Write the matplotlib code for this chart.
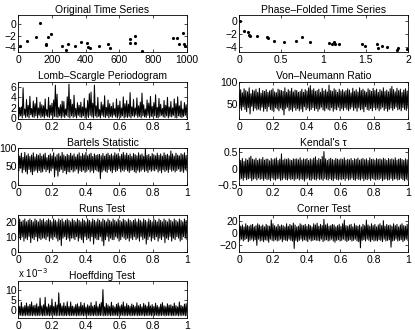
import matplotlib
matplotlib.use("Agg")
import matplotlib.pyplot as plt
from matplotlib.ticker import FuncFormatter

plt.rcParams['font.family'] = ['Liberation Sans', 'DejaVu Sans']
plt.rcParams['font.size'] = 7.5

# ---------------- data ----------------
orig_t = [12, 51, 104, 128, 165, 168, 175, 195, 262, 285, 295, 335, 370, 410, 412,
          425, 480, 530, 545, 660, 662, 690, 695, 735, 915, 940, 950, 975, 980, 990]
orig_y = [-3.8, -3.0, -2.3, 0.1, -3.6, -3.5, -2.2, -1.7, -3.7, -4.4, -3.5, -3.7, -3.1, -3.2, -3.9,
          -4.2, -3.8, -3.5, -4.1, -2.6, -3.2, -2.1, -3.2, -4.6, -2.4, -2.4, -3.5, -1.5, -3.5, -3.8]

phase_x = [0.01, 0.06, 0.11, 0.12, 0.13, 0.21, 0.33, 0.34, 0.41, 0.53, 0.68, 0.74, 0.84, 1.06,
           1.10, 1.12, 1.14, 1.18, 1.45, 1.49, 1.63, 1.65, 1.69, 1.75, 1.87, 1.88, 1.99]
phase_y = [0.1, -1.5, -1.7, -2.2, -2.3, -2.3, -2.4, -2.6, -3.1, -3.2, -3.0, -2.4, -3.2, -3.4,
           -3.5, -3.2, -3.6, -3.6, -3.5, -3.8, -3.5, -4.2, -3.8, -4.0, -4.5, -4.1, -4.3]

lomb = [3.0,0.3,2.1,0.5,2.2,0.1,5.8,0.6,1.8,0.2,3.6,0.4,2.5,0.1,4.2,0.7,1.9,0.3,3.3,0.2,
        2.8,0.5,4.0,0.1,2.0,0.6,3.1,0.2,2.6,0.4,2.4,0.1,3.7,0.5,1.7,0.3,4.0,0.2,2.5,0.6,
        2.9,0.1,3.5,0.4,6.3,0.3,4.6,0.2,2.1,0.5,2.6,0.1,3.3,0.4,3.2,0.2,1.8,0.6,4.1,0.3,
        6.5,0.1,3.6,0.5,2.7,0.2,4.4,0.4,1.9,0.1,3.0,0.6,2.5,0.3,3.1,0.2,2.2,0.5,3.8,0.1,
        2.0,0.4,3.4,0.2,4.7,0.6,5.0,0.3,2.9,0.1,6.3,0.5,2.4,0.2,4.0,0.4,1.7,0.1,3.1,0.6,
        2.6,0.3,4.3,0.2,2.1,0.5,3.5,0.1,2.8,0.4,2.3,0.2,3.0,0.6,1.9,0.3,3.7,0.1,2.5,0.4,
        3.3,0.2,2.0,0.5,4.1,0.1,2.8,0.3,3.4,0.2,2.7,0.4,4.9,0.1,2.2,0.5,3.6,0.3,2.0,0.6,
        3.9,0.2,2.4,0.4,3.1,0.1,4.8,0.5,2.6,0.3,1.8,0.2,3.5,0.6,2.9,0.1,4.2,0.4,2.3,0.3,
        3.0,0.5,4.5,0.2,2.1,0.1,3.8,0.4,2.7,0.6,1.9,0.3,3.4,0.2,2.5,0.5,4.0,0.1,2.2,0.4,
        3.2,0.3,2.0,0.6,3.7,0.2,2.8,0.1,4.1,0.5,2.4,0.3,3.3,0.2,1.8,0.4,3.0,0.6,2.6,0.2]

von_neumann = [78,40,82,36,75,44,84,38,80,33,77,42,86,28,73,45,81,35,79,41,
               83,37,76,39,85,36,74,43,80,34,78,40,82,34,76,44,79,38,81,36,
               84,33,77,42,75,39,83,35,81,41,80,37,78,26,86,40,76,43,82,35,
               79,38,85,34,77,42,81,36,80,40,76,35,78,39,83,33,76,44,82,37,
               79,41,86,35,91,38,81,42,84,36,78,40,80,34,83,39,76,43,85,37,
               79,35,82,41,77,38,92,36,80,42,78,34,84,39,81,37,76,43,83,35,
               79,40,82,36,77,42,80,38,84,35,81,39,75,43,85,36,78,41,82,34,
               77,42,86,37,80,39,83,33,79,44,76,38,84,36,81,40,78,35,85,42,
               80,37,83,41,76,35,82,39,79,43,86,36,78,40,81,34,77,38,84,41,
               89,36,82,40,77,43,85,37,80,39,83,35,76,42,81,38,84,36,79,41]

bartels = [82,38,78,45,86,33,75,41,88,36,79,30,84,42,77,35,81,28,87,37,
           76,40,83,34,80,39,85,34,78,36,82,43,86,36,74,41,80,33,84,38,
           79,45,87,22,76,40,82,24,85,37,78,42,88,34,81,39,77,30,83,36,
           80,35,86,41,79,35,84,38,76,43,82,32,87,39,78,36,85,40,81,34,
           88,37,79,42,83,35,86,39,77,33,84,41,80,38,82,36,83,17,79,35,
           85,40,78,37,83,34,86,42,80,38,84,33,79,41,87,36,82,39,85,44,
           78,35,83,40,88,37,81,42,86,38,80,34,84,39,77,41,85,36,82,33,
           79,40,87,35,81,38,84,42,78,36,97,39,80,34,83,41,77,37,85,40,
           82,38,79,43,86,35,80,39,84,33,78,41,87,36,81,40,83,34,79,42,
           92,37,84,40,78,35,86,39,81,43,79,36,85,38,82,34,87,41,80,38]

kendall = [0.28,-0.33,0.25,-0.30,0.31,-0.36,0.22,-0.28,0.30,-0.34,0.26,-0.31,0.33,-0.29,0.38,-0.37,0.29,-0.32,0.27,-0.30,
           0.32,-0.35,0.25,-0.29,0.30,-0.33,0.28,-0.31,0.34,-0.36,0.26,-0.30,0.29,-0.34,0.29,-0.32,0.24,-0.37,0.31,-0.29,
           0.27,-0.33,0.30,-0.35,0.33,-0.31,0.25,-0.30,0.29,-0.36,0.45,-0.34,0.26,-0.29,0.30,-0.33,0.28,-0.35,0.31,-0.30,
           0.27,-0.34,0.25,-0.31,0.30,-0.36,0.29,-0.32,0.30,-0.30,0.27,-0.35,0.33,-0.31,0.26,-0.33,0.30,-0.38,0.28,-0.32,
           0.31,-0.29,0.25,-0.34,0.30,-0.36,0.27,-0.31,0.32,-0.33,0.36,-0.35,0.26,-0.30,0.31,-0.34,0.28,-0.32,0.37,-0.36,
           0.52,-0.30,0.30,-0.33,0.25,-0.35,0.29,-0.31,0.32,-0.34,0.28,-0.37,0.26,-0.30,0.31,-0.33,0.29,-0.35,0.27,-0.32,
           0.30,-0.34,0.28,-0.31,0.33,-0.36,0.26,-0.30,0.29,-0.35,0.27,-0.33,0.31,-0.29,0.25,-0.34,0.30,-0.36,0.28,-0.31,
           0.32,-0.33,0.26,-0.35,0.29,-0.30,0.31,-0.37,0.27,-0.32,0.30,-0.34,0.25,-0.31,0.33,-0.36,0.28,-0.30,0.29,-0.33,
           0.26,-0.35,0.31,-0.32,0.28,-0.34,0.30,-0.30,0.27,-0.37,0.32,-0.33,0.29,-0.31,0.25,-0.35,0.31,-0.34,0.28,-0.30,
           0.30,-0.36,0.27,-0.32,0.33,-0.31,0.26,-0.35,0.29,-0.33,0.31,-0.30,0.28,-0.34,0.25,-0.37,0.30,-0.32,0.27,-0.35]

runs = [21,9,22,8,20,10,21,7,22,9,20,8,21,10,22,6,21,9,20,8,
        22,10,21,7,20,9,22,8,21,9,22,9,20,8,21,10,22,7,21,9,
        20,8,22,10,21,9,20,7,22,8,21,4,22,9,20,10,21,8,22,9,
        21,7,20,9,22,9,21,8,20,10,22,7,21,9,20,8,22,6,21,10,
        20,8,22,9,21,7,20,10,22,5,21,9,20,8,22,8,21,10,20,7,
        22,4,21,8,20,10,22,7,21,9,20,8,22,8,21,10,20,9,22,7,
        21,8,20,10,22,9,21,8,20,9,22,7,21,9,20,8,21,10,22,8,
        20,9,22,7,21,10,20,8,22,9,21,5,20,8,22,10,21,7,20,9,
        22,8,21,10,20,7,22,9,21,8,20,10,22,6,21,9,20,8,22,10,
        21,7,20,9,22,8,21,10,20,9,22,7,21,8,20,10,22,9,21,8]

corner = [14,-12,11,-10,13,-13,10,-11,15,-9,12,-14,11,-12,13,-10,14,-13,10,-11,
          12,-20,15,-10,13,-13,11,-12,13,-14,10,-11,14,-12,12,-15,11,-10,21,-12,
          15,-13,12,-11,10,-13,14,-12,11,-10,13,-14,12,-11,10,-12,15,-13,11,-10,
          14,-12,12,-13,16,-25,13,-12,10,-14,11,-12,15,-10,13,-13,12,-11,14,-12,
          11,-14,14,-10,12,-13,10,-12,15,-11,13,-12,16,-12,11,-13,14,-10,12,-14,
          22,-12,13,-11,15,-13,11,-12,12,-10,14,-13,13,-15,10,-12,12,-11,14,-13,
          11,-12,15,-10,21,-12,12,-14,11,-12,13,-11,14,-13,10,-12,15,-10,12,-13,
          11,-14,13,-24,10,-12,14,-11,12,-13,21,-10,13,-12,11,-14,15,-11,12,-13,
          14,-12,10,-13,13,-11,15,-12,12,-14,20,-10,11,-13,14,-12,12,-11,13,-23,
          11,-13,15,-12,12,-10,14,-13,10,-12,13,-11,15,-14,12,-12,11,-10,14,-12]

hoeffding_e3 = [2.5,-2.8,1.8,-2.6,3.8,-2.9,1.5,-2.7,2.2,-2.8,3.5,-2.6,1.9,-2.9,2.8,-2.7,4.0,-2.8,2.1,-2.6,
                2.4,-2.9,3.1,-2.7,1.7,-2.8,6.0,-2.6,2.0,-2.9,2.6,-2.7,6.3,-2.8,1.6,-2.6,3.0,-2.9,2.2,-2.7,
                5.5,-2.8,1.8,-2.6,3.9,-2.9,2.5,-2.7,8.6,-2.8,3.2,-2.6,2.0,-2.9,3.6,-2.7,1.9,-2.8,4.1,-2.6,
                1.7,-2.9,4.0,-2.7,2.0,-2.8,1.6,-2.6,2.7,-2.9,3.1,-2.7,1.8,-2.8,3.8,-2.6,2.2,-2.9,3.4,-2.7,
                1.5,-2.8,2.6,-2.6,2.0,-2.9,3.7,-2.7,1.9,-2.8,2.4,-2.6,4.2,-2.9,1.7,-2.7,2.9,-2.8,3.8,-2.6,
                10.2,-2.9,1.6,-2.7,3.3,-2.8,2.5,-2.6,1.8,-2.9,3.9,-2.7,2.2,-2.8,1.5,-2.6,2.8,-2.9,3.5,-2.7,
                2.0,-2.8,2.6,-2.6,4.0,-2.9,1.9,-2.7,3.2,-2.8,2.3,-2.6,1.8,-2.9,3.0,-2.7,2.4,-2.8,1.7,-2.6,
                3.6,-2.9,2.1,-2.7,2.8,-2.8,1.6,-2.6,3.3,-2.9,2.5,-2.7,1.9,-2.8,3.9,-2.6,2.0,-2.9,2.7,-2.7,
                1.8,-2.8,3.4,-2.6,2.2,-2.9,1.5,-2.7,2.9,-2.8,3.7,-2.6,2.1,-2.9,1.7,-2.7,3.1,-2.8,2.4,-2.6,
                2.6,-2.9,1.9,-2.7,3.5,-2.8,2.2,-2.6,1.6,-2.9,4.0,-2.7,2.3,-2.8,1.8,-2.6,2.9,-2.9,3.2,-2.7]

# ---------------- layout ----------------
W, H = 415, 330
fig = plt.figure(figsize=(W / 100, H / 100), dpi=100)

col_x = [18, 239]
ax_w = 169
row_top = [15, 81.5, 148, 214.5, 281]
ax_h = 37


def make_ax(row, col):
    x0 = col_x[col]
    top = row_top[row]
    return fig.add_axes([x0 / W, 1 - (top + ax_h) / H, ax_w / W, ax_h / H])


fmt = FuncFormatter(lambda v, p: ('%g' % v).replace('-', '\u2212'))


def style(ax, title, xlim, ylim, xticks, yticks):
    ax.set_title(title, fontsize=7.5, pad=1.5)
    ax.set_xlim(*xlim)
    ax.set_ylim(*ylim)
    ax.set_xticks(xticks)
    ax.set_yticks(yticks)
    ax.xaxis.set_major_formatter(fmt)
    ax.yaxis.set_major_formatter(fmt)
    ax.tick_params(direction='in', length=2, width=0.5, top=True, right=True,
                   labelsize=7.5)
    ax.tick_params(axis='x', pad=2.5)
    ax.tick_params(axis='y', pad=1)
    for s in ax.spines.values():
        s.set_linewidth(0.6)


def freq(n):
    return [i / (n - 1) for i in range(n)]


fx = [0, 0.2, 0.4, 0.6, 0.8, 1]

ax = make_ax(0, 0)
ax.plot(orig_t, orig_y, 'k.', markersize=2.5)
style(ax, 'Original Time Series', (0, 1000), (-4.8, 1.5), [0, 200, 400, 600, 800, 1000], [-4, -2, 0])

ax = make_ax(0, 1)
ax.plot(phase_x, phase_y, 'k.', markersize=2.5)
style(ax, 'Phase\u2013Folded Time Series', (0, 2), (-4.8, 1.0), [0, 0.5, 1, 1.5, 2], [-4, -2, 0])

lw = 0.75
ax = make_ax(1, 0)
ax.plot(freq(len(lomb)), lomb, 'k-', lw=lw)
style(ax, 'Lomb\u2013Scargle Periodogram', (0, 1), (0, 7), fx, [0, 2, 4, 6])

ax = make_ax(1, 1)
ax.plot(freq(len(von_neumann)), von_neumann, 'k-', lw=lw)
style(ax, 'Von\u2013Neumann Ratio', (0, 1), (18, 100), fx, [50, 100])

ax = make_ax(2, 0)
ax.plot(freq(len(bartels)), bartels, 'k-', lw=lw)
style(ax, 'Bartels Statistic', (0, 1), (0, 100), fx, [0, 50, 100])

ax = make_ax(2, 1)
ax.plot(freq(len(kendall)), kendall, 'k-', lw=lw)
style(ax, "Kendal's \u03c4", (0, 1), (-0.5, 0.63), fx, [-0.5, 0, 0.5])

ax = make_ax(3, 0)
ax.plot(freq(len(runs)), runs, 'k-', lw=lw)
style(ax, 'Runs Test', (0, 1), (0, 25), fx, [0, 10, 20])

ax = make_ax(3, 1)
ax.plot(freq(len(corner)), corner, 'k-', lw=lw)
style(ax, 'Corner Test', (0, 1), (-30, 30), fx, [-20, 0, 20])

ax = make_ax(4, 0)
ax.plot(freq(len(hoeffding_e3)), hoeffding_e3, 'k-', lw=lw)
style(ax, 'Hoeffding Test', (0, 1), (-4, 14.5), fx, [0, 5, 10])
ax.text(0, 1.03, 'x 10$^{\u22123}$', transform=ax.transAxes, fontsize=7, va='bottom', ha='left')

fig.savefig('out.png', dpi=100)
